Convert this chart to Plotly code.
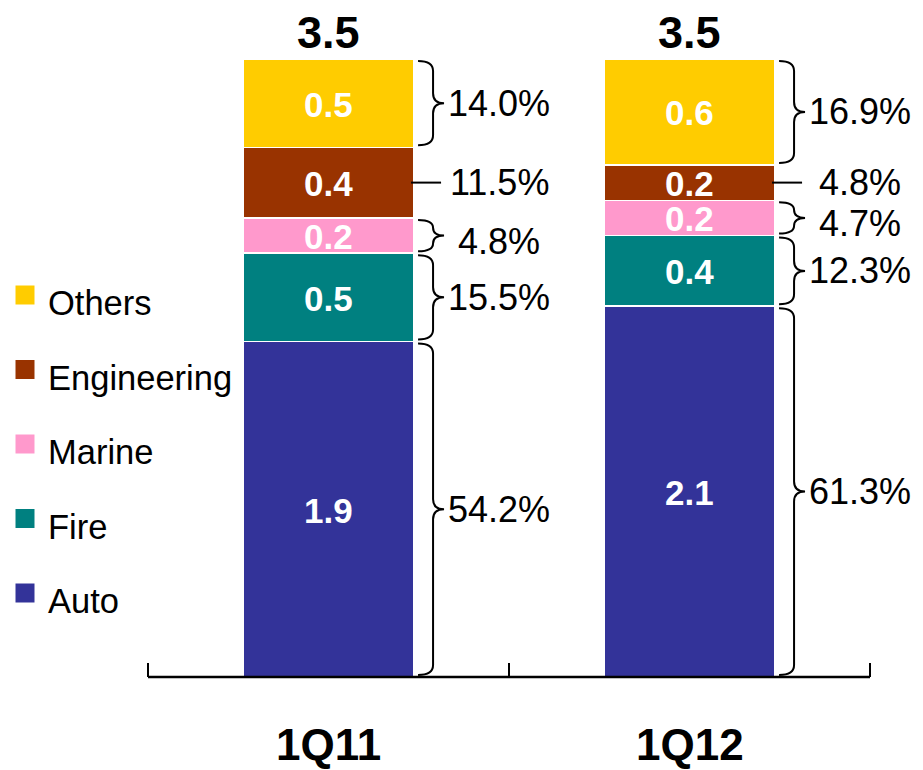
import plotly.graph_objects as go

# Premium mix by line of business (RMB bn), two quarters
periods = ["1Q11", "1Q12"]
lines = ["Auto", "Fire", "Marine", "Engineering", "Others"]
values_1q11 = [1.9, 0.5, 0.2, 0.4, 0.5]
values_1q12 = [2.1, 0.4, 0.2, 0.2, 0.6]
share_1q11 = ["54.2%", "15.5%", "4.8%", "11.5%", "14.0%"]
share_1q12 = ["61.3%", "12.3%", "4.7%", "4.8%", "16.9%"]
totals = [3.5, 3.5]

values = [values_1q11, values_1q12]
shares = [share_1q11, share_1q12]

colors = ["#333399", "#008080", "#FF99CC", "#993300", "#FFCC00"]
marker_kind = ["brace", "brace", "brace", "line", "brace"]

FONT = "Liberation Sans, Arial, sans-serif"
W, H = 923, 770
PX_PER_UNIT = 176.57          # vertical pixels per unit of value
BASE_Y = 677                  # pixel row of the zero line
PAD_B = 8                     # room below the zero line inside the plot area
BAR_W = 0.474
xpos = list(range(len(periods)))

fig = go.Figure()

# stacked bars, one trace per line of business
for k, name in enumerate(lines):
    fig.add_trace(go.Bar(
        x=xpos, y=[values[j][k] for j in xpos], name=name, width=BAR_W,
        marker=dict(color=colors[k], line=dict(color="white", width=1.5)),
        showlegend=False, hoverinfo="skip", xaxis="x", yaxis="y",
    ))

annotations = []
shapes = []
dy = 1.0 / PX_PER_UNIT  # one pixel in data units

for j in xpos:
    base = 0.0
    edge = xpos[j] + BAR_W / 2
    for k, name in enumerate(lines):
        v = values[j][k]
        bot, top = base, base + v
        mid = (bot + top) / 2
        base = top
        # value inside the segment
        annotations.append(dict(
            x=xpos[j], y=mid, xref="x", yref="y", text=f"<b>{v:.1f}</b>",
            showarrow=False, font=dict(family=FONT, size=35, color="white"),
            xanchor="center", yanchor="middle", yshift=-1,
        ))
        # share label to the right
        annotations.append(dict(
            x=edge, y=mid, xref="x", yref="y", text=shares[j][k],
            showarrow=False, font=dict(family=FONT, size=36, color="black"),
            xanchor="center", yanchor="middle", xshift=85,
            yshift=-6 if name == "Marine" else 0,
        ))
        if marker_kind[k] == "line":
            shapes.append(dict(
                type="line", xref="x", yref="y", xsizemode="pixel", xanchor=edge,
                x0=-3, x1=27, y0=mid, y1=mid, line=dict(color="black", width=2),
            ))
        else:
            t, b = top - 2 * dy, bot + 2 * dy
            r = min(10 * dy, (t - b) / 4)
            path = (f"M 4,{t} Q 19,{t} 19,{t - r} L 19,{mid + r} "
                    f"Q 19,{mid} 30,{mid} Q 19,{mid} 19,{mid - r} "
                    f"L 19,{b + r} Q 19,{b} 4,{b}")
            shapes.append(dict(
                type="path", xref="x", yref="y", xsizemode="pixel", xanchor=edge,
                path=path, line=dict(color="black", width=2),
            ))
    # total above the bar
    annotations.append(dict(
        x=xpos[j], y=totals[j], xref="x", yref="y", text=f"<b>{totals[j]:.1f}</b>",
        showarrow=False, font=dict(family=FONT, size=45, color="black"),
        xanchor="center", yanchor="middle", yshift=27,
    ))
    # period label under the axis
    annotations.append(dict(
        x=xpos[j], y=0, xref="x", yref="y", text=f"<b>{periods[j]}</b>",
        showarrow=False, font=dict(family=FONT, size=44, color="black"),
        xanchor="center", yanchor="middle", yshift=-67,
    ))

# baseline spanning the two categories, with upward ticks at the category edges
edges = [i - 0.5 for i in range(len(periods) + 1)]
shapes.append(dict(type="line", xref="x", yref="y", x0=edges[0], x1=edges[-1],
                   y0=0, y1=0, line=dict(color="black", width=2.5)))
for e in edges:
    shapes.append(dict(type="line", xref="x", yref="y", ysizemode="pixel", yanchor=0,
                       x0=e, x1=e, y0=0, y1=14, line=dict(color="black", width=2)))

# legend, drawn on its own small axes (Others at top)
leg_idx = list(range(len(lines)))
fig.add_trace(go.Scatter(
    x=[25] * len(lines), y=leg_idx, mode="markers",
    marker=dict(symbol="square", size=19, color=colors, line=dict(width=0)),
    showlegend=False, hoverinfo="skip", xaxis="x2", yaxis="y2",
))
for i, name in enumerate(lines):
    annotations.append(dict(
        x=46, y=leg_idx[i], xref="x2", yref="y2", text=name, showarrow=False,
        font=dict(family=FONT, size=34.5, color="black"),
        xanchor="left", yanchor="middle", yshift=-8,
    ))

x_axis0 = 148                 # pixel column of the left category edge
x_left = 138                  # left edge of the bar plot area
px_per_cat = 361.0
plot_h = BASE_Y + PAD_B
leg_step = 74.5
leg_r0 = -(plot_h - 593) / leg_step
x_r0 = -0.5 - (x_axis0 - x_left) / px_per_cat

fig.update_layout(
    width=W, height=H, margin=dict(l=0, r=0, t=0, b=H - plot_h),
    paper_bgcolor="white", plot_bgcolor="white", barmode="stack",
    xaxis=dict(domain=[x_left / W, 1], range=[x_r0, x_r0 + (W - x_left) / px_per_cat],
               visible=False, fixedrange=True),
    yaxis=dict(domain=[0, 1], range=[-PAD_B / PX_PER_UNIT, BASE_Y / PX_PER_UNIT],
               visible=False, fixedrange=True),
    xaxis2=dict(domain=[0, x_left / W], range=[0, x_left], visible=False,
                anchor="y2", fixedrange=True),
    yaxis2=dict(domain=[0, 1], range=[leg_r0, leg_r0 + plot_h / leg_step],
                visible=False, anchor="x2", fixedrange=True),
    annotations=annotations, shapes=shapes,
)

fig.write_html("out.html")
